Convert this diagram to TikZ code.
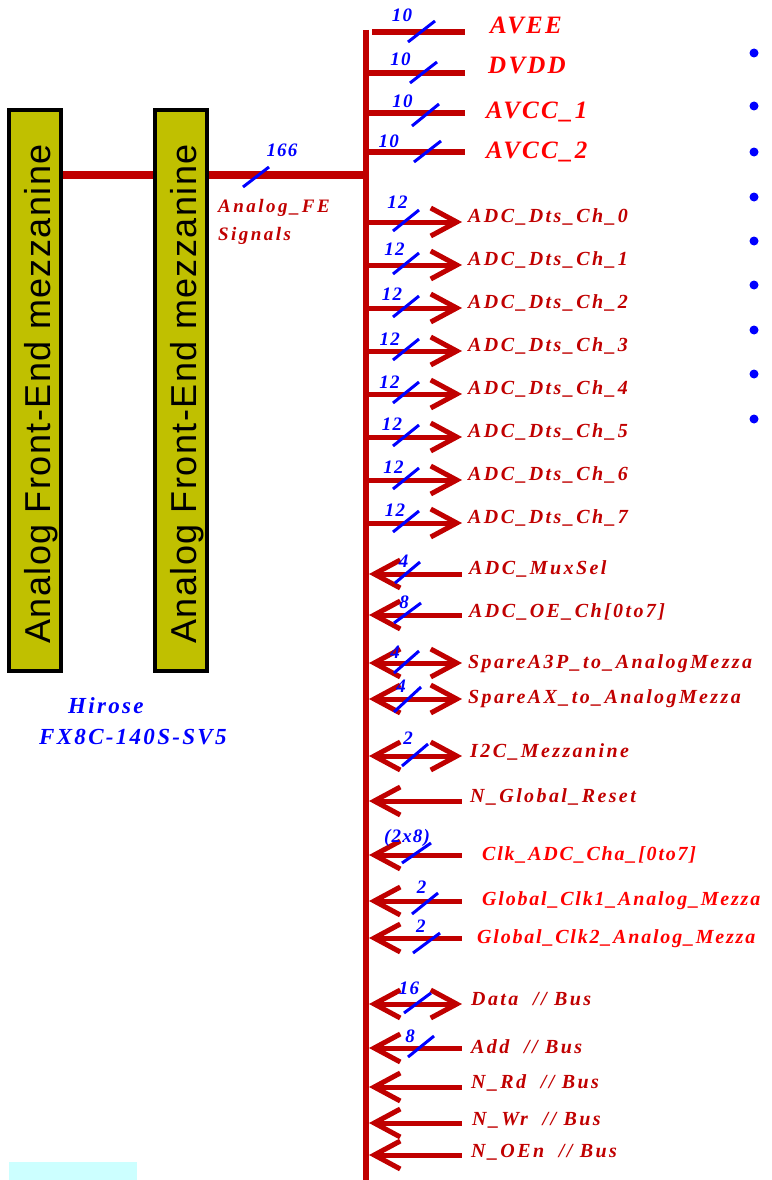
\documentclass[tikz,border=0pt]{standalone}
\usepackage{fontspec}
\setmainfont{Liberation Serif}
\newfontfamily\boxface{Liberation Sans}
\usetikzlibrary{arrows.meta}
\definecolor{wirered}{HTML}{C00000}
\definecolor{hotred}{HTML}{FF0000}
\definecolor{tagblue}{HTML}{0000FF}
\definecolor{mezzfill}{HTML}{C0C000}
\definecolor{palecyan}{HTML}{CCFFFF}

\tikzset{
  busbarb/.tip={Straight Barb[length=26pt,width=28pt]},
  bus/.style={draw=wirered,line width=6pt},
  trunk/.style={draw=wirered,line width=8pt},
  rail/.style={draw=wirered,line width=6pt},
  sigline/.style={draw=wirered,line width=5pt},
  outsig/.style={sigline,-busbarb},
  insig/.style={sigline,busbarb-},
  biosig/.style={sigline,busbarb-busbarb},
  slash/.style={draw=tagblue,line width=3pt},
  num/.style={text=tagblue,inner sep=0pt,anchor=base,
    font=\bfseries\itshape\fontsize{19}{19}\selectfont\addfontfeature{LetterSpace=6}},
  lbl/.style={text=wirered,inner sep=0pt,anchor=base west,
    font=\bfseries\itshape\fontsize{20}{20}\selectfont\addfontfeature{LetterSpace=12}},
  hotlbl/.style={lbl,text=hotred,
    font=\bfseries\itshape\fontsize{20}{20}\selectfont\addfontfeature{LetterSpace=9}},
  pwrlbl/.style={lbl,text=hotred,
    font=\bfseries\itshape\fontsize{25}{25}\selectfont\addfontfeature{LetterSpace=9}},
  felbl/.style={lbl,
    font=\bfseries\itshape\fontsize{19}{19}\selectfont\addfontfeature{LetterSpace=13}},
  conn/.style={text=tagblue,inner sep=0pt,anchor=base west,
    font=\bfseries\itshape\fontsize{23}{23}\selectfont\addfontfeature{LetterSpace=10}},
  mezz/.style={draw=black,line width=4pt,fill=mezzfill,
    minimum width=52pt,minimum height=561pt,inner sep=0pt},
  mezztext/.style={rotate=90,anchor=base,inner sep=0pt,
    font=\boxface\fontsize{36}{36}\selectfont\addfontfeature{LetterSpace=4}},
  dot/.style={circle,fill=tagblue,inner sep=0pt,minimum size=9pt},
}

\begin{document}
\begin{tikzpicture}[x=1pt,y=-1pt]
\useasboundingbox (0,0) rectangle (771,1180);

% main bus
\coordinate (busT) at (366,30);
\coordinate (busB) at (366,1180);
\draw[bus] (busT) -- (busB);

% trunk between the two mezzanine connectors and the bus
\coordinate (tA) at (63,175);
\coordinate (tB) at (153,175);
\coordinate (tC) at (208,175);
\coordinate (tD) at (366,175);
\draw[trunk] (tA) -- (tB);
\draw[trunk] (tC) -- (tD);

% mezzanine connectors
\node[mezz] (m1) at (35,390.5) {};
\node[mezztext] (m1t) at (50,394) {Analog Front-End mezzanine};
\node[mezz] (m2) at (181,390.5) {};
\node[mezztext] (m2t) at (196,394) {Analog Front-End mezzanine};

\node[num] (n166) at (282,156) {166};
\draw[slash] (243,187) -- (269,167);
\node[felbl] (fe1) at (218,212) {Analog\_FE};
\node[felbl] (fe2) at (218,240) {Signals};

\node[conn] (hir) at (68,713) {Hirose};
\node[conn] (fx8) at (39,744) {FX8C-140S-SV5};

% power rails
\coordinate (pA-a) at (372,32);  \coordinate (pA-b) at (465,32);
\coordinate (pB-a) at (366,73);  \coordinate (pB-b) at (465,73);
\coordinate (pC-a) at (366,113); \coordinate (pC-b) at (465,113);
\coordinate (pD-a) at (366,152); \coordinate (pD-b) at (465,152);
\draw[rail] (pA-a) -- (pA-b);
\draw[rail] (pB-a) -- (pB-b);
\draw[rail] (pC-a) -- (pC-b);
\draw[rail] (pD-a) -- (pD-b);
\node[pwrlbl] (avee) at (490,34) {AVEE};
\node[pwrlbl] (dvdd) at (488,74) {DVDD};
\node[pwrlbl] (avcc1) at (486,118) {AVCC\_1};
\node[pwrlbl] (avcc2) at (486,158) {AVCC\_2};
\node[num] at (402,22) {10};
\node[num] at (400.5,66) {10};
\node[num] at (402.5,108) {10};
\node[num] at (388.7,147) {10};
\draw[slash] (408,42) -- (435,21);
\draw[slash] (410,83) -- (437,62);
\draw[slash] (412,126) -- (439,104);
\draw[slash] (414,162) -- (441,141);

% bullet column
\foreach \yy [count=\i] in {53,106,152,197,241,285,330,374,419}
  \node[dot] (dot\i) at (754,\yy) {};

% ADC data outputs
\foreach \k/\nx/\nb in {0/397.5/208,1/394.5/255,2/392/300,3/389.8/345,
                        4/389.5/388,5/392/430,6/393.5/473,7/395/516} {
  \pgfmathsetmacro\yy{222+43*\k}
  \coordinate (dts\k-a) at (366,\yy);
  \coordinate (dts\k-b) at (462,\yy);
  \draw[outsig] (dts\k-a) -- (dts\k-b);
  \node[lbl] (dts\k) at (468,\yy) {ADC\_Dts\_Ch\_\k};
  \node[num] at (\nx,\nb) {12};
  \draw[slash] (393,\yy+9) -- (419,\yy-12);
}

% control inputs and bidirectional lines
\coordinate (mux-a) at (369,574);  \coordinate (mux-b) at (462,574);
\draw[insig] (mux-a) -- (mux-b);
\node[lbl] (mux) at (469,574) {ADC\_MuxSel};
\node[num] at (403.7,567) {4};
\draw[slash] (395,583) -- (420,562);

\coordinate (oe-a) at (369,615);  \coordinate (oe-b) at (462,615);
\draw[insig] (oe-a) -- (oe-b);
\node[lbl] (oe) at (469,617) {ADC\_OE\_Ch[0to7]};
\node[num] at (404,608) {8};
\draw[slash] (394,623) -- (421,603);

\coordinate (sa-a) at (369,663);  \coordinate (sa-b) at (462,663);
\draw[biosig] (sa-a) -- (sa-b);
\node[lbl] (sa) at (468,668) {SpareA3P\_to\_AnalogMezza};
\node[num] at (395,658) {4};
\draw[slash] (394,673) -- (419,651);

\coordinate (sx-a) at (369,699);  \coordinate (sx-b) at (462,699);
\draw[biosig] (sx-a) -- (sx-b);
\node[lbl] (sx) at (468,703) {SpareAX\_to\_AnalogMezza};
\node[num] at (401,692) {4};
\draw[slash] (394,712) -- (421,687);

\coordinate (i2c-a) at (369,756);  \coordinate (i2c-b) at (462,756);
\draw[biosig] (i2c-a) -- (i2c-b);
\node[lbl] (i2c) at (470,757) {I2C\_Mezzanine};
\node[num] at (408,744) {2};
\draw[slash] (402,766) -- (428,744);

\coordinate (rst-a) at (369,801);  \coordinate (rst-b) at (462,801);
\draw[insig] (rst-a) -- (rst-b);
\node[lbl] (rst) at (470,802) {N\_Global\_Reset};

\coordinate (clk-a) at (369,855);  \coordinate (clk-b) at (462,855);
\draw[insig] (clk-a) -- (clk-b);
\node[hotlbl] (clk) at (482,860) {Clk\_ADC\_Cha\_[0to7]};
\node[num] at (407,842) {(2x8)};
\draw[slash] (402,863) -- (431,843);

\coordinate (gc1-a) at (369,901);  \coordinate (gc1-b) at (462,901);
\draw[insig] (gc1-a) -- (gc1-b);
\node[hotlbl] (gc1) at (482,905) {Global\_Clk1\_Analog\_Mezza};
\node[num] at (421.7,893) {2};
\draw[slash] (412,914) -- (438,893);

\coordinate (gc2-a) at (369,938);  \coordinate (gc2-b) at (462,938);
\draw[insig] (gc2-a) -- (gc2-b);
\node[hotlbl] (gc2) at (477,943) {Global\_Clk2\_Analog\_Mezza};
\node[num] at (420.8,932) {2};
\draw[slash] (413,953) -- (440,933);

% local bus
\coordinate (dat-a) at (369,1004);  \coordinate (dat-b) at (462,1004);
\draw[biosig] (dat-a) -- (dat-b);
\node[lbl] (dat) at (471,1005) {Data\ \ //\ Bus};
\node[num] at (409,994) {16};
\draw[slash] (404,1013) -- (431,993);

\coordinate (add-a) at (369,1048);  \coordinate (add-b) at (462,1048);
\draw[insig] (add-a) -- (add-b);
\node[lbl] (add) at (471,1053) {Add\ \ //\ Bus};
\node[num] at (410,1042) {8};
\draw[slash] (408,1057) -- (434,1036);

\coordinate (rd-a) at (369,1087);  \coordinate (rd-b) at (462,1087);
\draw[insig] (rd-a) -- (rd-b);
\node[lbl] (rd) at (471,1088) {N\_Rd\ \ //\ Bus};

\coordinate (wr-a) at (369,1123);  \coordinate (wr-b) at (462,1123);
\draw[insig] (wr-a) -- (wr-b);
\node[lbl] (wr) at (472,1125) {N\_Wr\ \ //\ Bus};

\coordinate (oen-a) at (369,1155);  \coordinate (oen-b) at (462,1155);
\draw[insig] (oen-a) -- (oen-b);
\node[lbl] (oen) at (471,1157) {N\_OEn\ \ //\ Bus};

% pale strip at the bottom left
\fill[palecyan] (9,1162) rectangle (137,1180);
\end{tikzpicture}
\end{document}
